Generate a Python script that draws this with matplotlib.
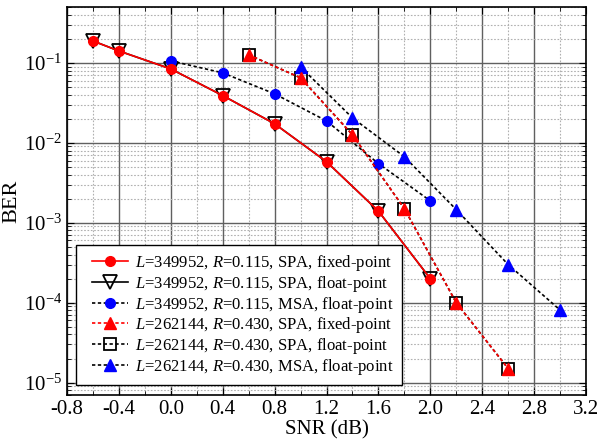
import matplotlib
matplotlib.use("Agg")
import matplotlib.pyplot as plt
from matplotlib.ticker import LogLocator, FixedLocator, NullFormatter
from matplotlib.legend_handler import HandlerLine2D
import numpy as np

plt.rcParams['font.family'] = ['Liberation Serif', 'DejaVu Serif']
plt.rcParams['mathtext.fontset'] = 'custom'
plt.rcParams['mathtext.rm'] = 'Liberation Serif'
plt.rcParams['mathtext.it'] = 'Liberation Serif:italic'

# ---- data ----
snr_a = [-0.6, -0.4, 0.0, 0.4, 0.8, 1.2, 1.6, 2.0]
ber_spa_fixed_a = [0.188, 0.141, 0.084, 0.039, 0.0173, 0.0058, 0.0014, 2.0e-4]
ber_spa_float_a = [0.188, 0.141, 0.084, 0.039, 0.0173, 0.0058, 0.0014, 2.0e-4]
snr_msa_a = [0.0, 0.4, 0.8, 1.2, 1.6, 2.0]
ber_msa_float_a = [0.106, 0.075, 0.041, 0.0188, 0.0055, 0.00188]
snr_b = [0.6, 1.0, 1.4, 1.8, 2.2, 2.6]
ber_spa_fixed_b = [0.126, 0.065, 0.0126, 0.0015, 1.0e-4, 1.5e-5]
ber_spa_float_b = [0.126, 0.065, 0.0126, 0.0015, 1.0e-4, 1.5e-5]
snr_msa_b = [1.0, 1.4, 1.8, 2.2, 2.6, 3.0]
ber_msa_float_b = [0.089, 0.0205, 0.0067, 0.00146, 3.0e-4, 8.1e-5]

labels = [r"$L$=349952, $R$=0.115, SPA, fixed-point",
          r"$L$=349952, $R$=0.115, SPA, float-point",
          r"$L$=349952, $R$=0.115, MSA, float-point",
          r"$L$=262144, $R$=0.430, SPA, fixed-point",
          r"$L$=262144, $R$=0.430, SPA, float-point",
          r"$L$=262144, $R$=0.430, MSA, float-point"]

fig = plt.figure(figsize=(6.01, 4.44), dpi=100, facecolor="white")
ax = fig.add_axes([67 / 601, 1 - 395 / 444, (586 - 67) / 601, (395 - 7) / 444])
ax.set_yscale("log")

dot = (0, (2, 1.5))
h2, = ax.plot(snr_a, ber_spa_float_a, "-", color="black", lw=1.2, marker="v", ms=10,
              mfc="none", mec="black", mew=1.3, label=labels[1], zorder=3)
h1, = ax.plot(snr_a, ber_spa_fixed_a, "-", color="red", lw=1.2, marker="o", ms=7,
              mfc="red", mec="red", label=labels[0], zorder=4)
h3, = ax.plot(snr_msa_a, ber_msa_float_a, ls=dot, color="black", lw=1.2, marker="o", ms=7,
              mfc="blue", mec="blue", label=labels[2], zorder=3)
h5, = ax.plot(snr_b, ber_spa_float_b, ls=dot, color="black", lw=1.2, marker="s", ms=8,
              mfc="none", mec="black", mew=1.3, label=labels[4], zorder=3)
h4, = ax.plot(snr_b, ber_spa_fixed_b, ls=dot, color="red", lw=1.2, marker="^", ms=8,
              mfc="red", mec="red", label=labels[3], zorder=4)
h6, = ax.plot(snr_msa_b, ber_msa_float_b, ls=dot, color="black", lw=1.2, marker="^", ms=8,
              mfc="blue", mec="blue", label=labels[5], zorder=3)

ax.set_xlim(-0.8, 3.2)
ax.set_ylim(7e-6, 0.5)
ax.xaxis.set_major_locator(FixedLocator(np.arange(-0.8, 3.21, 0.4)))
ax.xaxis.set_minor_locator(FixedLocator(np.arange(-0.6, 3.2, 0.4)))
ax.set_xticklabels([f"{v:.1f}" for v in np.arange(-0.8, 3.21, 0.4)])
ax.yaxis.set_major_locator(LogLocator(base=10, numticks=10))
ax.yaxis.set_minor_locator(LogLocator(base=10, subs=np.arange(2, 10), numticks=20))
ax.yaxis.set_minor_formatter(NullFormatter())

ax.grid(which="major", color="#606060", lw=1.0, ls="-")
ax.grid(which="minor", color="#b0b0b0", lw=0.8, ls=(0, (1.5, 1.5)))
ax.set_axisbelow(True)

ax.tick_params(which="both", direction="in", top=True, right=True, labelsize=15)
ax.tick_params(which="major", length=5)
ax.tick_params(which="minor", length=3)
for s in ax.spines.values():
    s.set_linewidth(1.2)

ax.set_xlabel("SNR (dB)", fontsize=15, labelpad=1)
ax.set_ylabel("BER", fontsize=16, labelpad=2)

hs = [h1, h2, h3, h4, h5, h6]
leg = ax.legend(handles=hs, loc="lower left",
                bbox_to_anchor=(0.017, 0.026), fontsize=12, frameon=True, fancybox=False,
                edgecolor="black", framealpha=1, handlelength=2.64, handletextpad=0.4,
                borderpad=0.5, labelspacing=0.04, borderaxespad=0,
                handler_map={h: HandlerLine2D(xpad=0.48) for h in hs})
leg.get_frame().set_linewidth(1.0)

fig.savefig("out.png", dpi=100, facecolor="white")
